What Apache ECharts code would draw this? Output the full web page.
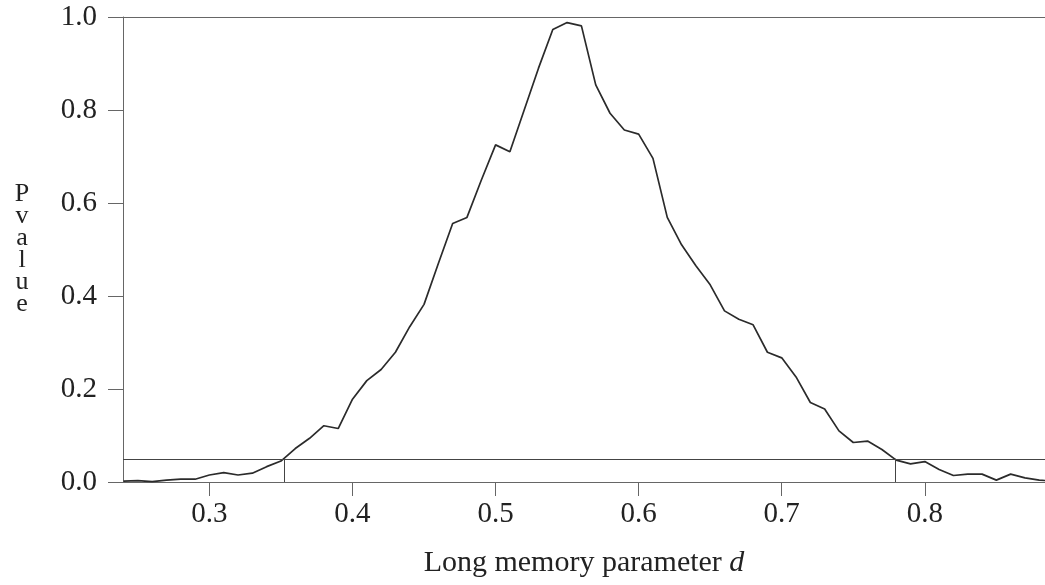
<!DOCTYPE html>
<html>
<head>
<meta charset="utf-8">
<script src="https://cdn.jsdelivr.net/npm/echarts@6/dist/echarts.min.js"></script>
<style>
    html, body { margin: 0; padding: 0; background: #fff; }
    #chart { width: 1045px; height: 585px; }
</style>
</head>
<body>
<div id="chart"></div>
<script>
// long memory parameter d (grid of estimates)
var dValues = [0.24, 0.25, 0.26, 0.27, 0.28, 0.29, 0.30, 0.31, 0.32, 0.33,
    0.34, 0.35, 0.36, 0.37, 0.38, 0.39, 0.40, 0.41, 0.42, 0.43,
    0.44, 0.45, 0.46, 0.47, 0.48, 0.49, 0.50, 0.51, 0.52, 0.53,
    0.54, 0.55, 0.56, 0.57, 0.58, 0.59, 0.60, 0.61, 0.62, 0.63,
    0.64, 0.65, 0.66, 0.67, 0.68, 0.69, 0.70, 0.71, 0.72, 0.73,
    0.74, 0.75, 0.76, 0.77, 0.78, 0.79, 0.80, 0.81, 0.82, 0.83,
    0.84, 0.85, 0.86, 0.87, 0.88, 0.89];
// P value at each d
var pValues = [0.002, 0.003, 0.001, 0.004, 0.006, 0.006, 0.015, 0.020, 0.015, 0.019,
    0.033, 0.045, 0.072, 0.094, 0.121, 0.115, 0.178, 0.218, 0.242, 0.279,
    0.334, 0.382, 0.470, 0.556, 0.569, 0.649, 0.725, 0.710, 0.800, 0.890,
    0.973, 0.988, 0.981, 0.854, 0.793, 0.757, 0.748, 0.696, 0.569, 0.510,
    0.465, 0.424, 0.368, 0.350, 0.338, 0.279, 0.267, 0.226, 0.171, 0.157,
    0.110, 0.085, 0.088, 0.070, 0.047, 0.039, 0.044, 0.027, 0.014, 0.017,
    0.017, 0.004, 0.017, 0.009, 0.004, 0.002];
var xTicks = [0.3, 0.4, 0.5, 0.6, 0.7, 0.8];
var yTicks = [0, 0.2, 0.4, 0.6, 0.8, 1.0];
var alpha = 0.05;
var cutoffs = [0.352, 0.779];
var xRange = [0.2396, 0.884];

var font = 'Liberation Serif';
var axisColor = '#666';
var lineColor = '#2b2b2b';

var seriesData = dValues.map(function (d, i) { return [d, pValues[i]]; });

var marks = [{ yAxis: alpha }];
cutoffs.forEach(function (c) {
    marks.push([{ coord: [c, 0] }, { coord: [c, alpha] }]);
});

var option = {
    animation: false,
    backgroundColor: '#fff',
    grid: { left: 123, right: 0, top: 17, bottom: 103 },
    xAxis: [
        {
            type: 'value',
            position: 'bottom',
            min: xRange[0],
            max: xRange[1],
            name: 'Long memory parameter {d|d}',
            nameLocation: 'middle',
            nameGap: 66,
            nameTextStyle: {
                fontFamily: font, fontSize: 30, color: '#222',
                rich: { d: { fontFamily: font, fontSize: 30, fontStyle: 'italic', color: '#222' } }
            },
            axisLine: { show: true, lineStyle: { color: axisColor, width: 1 } },
            axisTick: { show: true, inside: false, length: 14, customValues: xTicks, lineStyle: { color: axisColor } },
            axisLabel: {
                customValues: xTicks,
                margin: 18,
                fontFamily: font, fontSize: 29, color: '#222',
                formatter: function (v) { return v.toFixed(1); }
            },
            splitLine: { show: false }
        },
        {
            // top frame line
            type: 'value',
            position: 'top',
            min: xRange[0],
            max: xRange[1],
            axisLine: { show: true, lineStyle: { color: axisColor, width: 1 } },
            axisTick: { show: false },
            axisLabel: { show: false },
            splitLine: { show: false }
        }
    ],
    yAxis: {
        type: 'value',
        min: 0,
        max: 1,
        interval: 0.2,
        name: 'P\nv\na\nl\nu\ne',
        nameLocation: 'middle',
        nameRotate: 0,
        nameGap: 101,
        nameTextStyle: {
            fontFamily: font, fontSize: 26, lineHeight: 22, color: '#222',
            align: 'center', verticalAlign: 'middle',
            padding: [14, 0, 0, 0]
        },
        axisLine: { show: true, lineStyle: { color: axisColor, width: 1 } },
        axisTick: { show: true, inside: false, length: 15, lineStyle: { color: axisColor } },
        axisLabel: {
            margin: 26,
            fontFamily: font, fontSize: 29, color: '#222',
            customValues: yTicks,
            formatter: function (v) { return v.toFixed(1); }
        },
        splitLine: { show: false }
    },
    series: [
        {
            type: 'line',
            data: seriesData,
            showSymbol: false,
            clip: true,
            lineStyle: { color: lineColor, width: 1.7 },
            markLine: {
                silent: true,
                symbol: 'none',
                label: { show: false },
                lineStyle: { color: '#444', width: 1, type: 'solid' },
                data: marks
            }
        }
    ]
};

var myChart = echarts.init(document.getElementById('chart'));
myChart.setOption(option);
</script>
</body>
</html>
